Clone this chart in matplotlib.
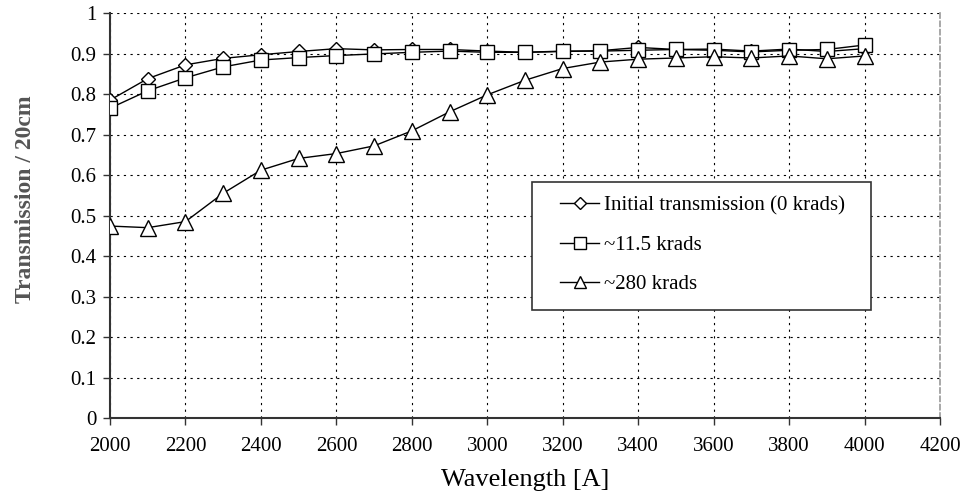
import matplotlib
matplotlib.use("Agg")
import matplotlib.pyplot as plt
from matplotlib.patches import Rectangle

plt.rcParams['font.family'] = ['Liberation Serif', 'DejaVu Serif']

# wavelength [A]
wavelength = [2000, 2100, 2200, 2300, 2400, 2500, 2600, 2700, 2800, 2900, 3000,
              3100, 3200, 3300, 3400, 3500, 3600, 3700, 3800, 3900, 4000]

# transmission / 20cm
initial = [0.785, 0.838, 0.872, 0.888, 0.897, 0.905, 0.912, 0.909, 0.910, 0.910, 0.906,
           0.903, 0.905, 0.907, 0.915, 0.910, 0.911, 0.906, 0.911, 0.905, 0.912]
krad_11 = [0.765, 0.808, 0.840, 0.867, 0.884, 0.890, 0.895, 0.899, 0.903, 0.906, 0.903,
           0.903, 0.906, 0.906, 0.908, 0.910, 0.908, 0.904, 0.908, 0.910, 0.921]
krad_280 = [0.474, 0.470, 0.485, 0.555, 0.612, 0.641, 0.653, 0.672, 0.709, 0.756, 0.798,
            0.834, 0.863, 0.879, 0.886, 0.889, 0.892, 0.889, 0.894, 0.887, 0.894]

labels = ['Initial transmission (0 krads)', '~11.5 krads', '~280 krads']

fig = plt.figure(figsize=(9.66, 4.99), dpi=100)
ax = fig.add_axes([0.1139, 0.1623, 0.8592, 0.8116])

ax.plot(wavelength, initial, color='black', lw=1, marker='D', ms=7,
        mfc='white', mec='black', mew=1, label=labels[0], zorder=3)
ax.plot(wavelength, krad_11, color='black', lw=1, marker='s', ms=10,
        mfc='white', mec='black', mew=1, label=labels[1], zorder=4)
ax.plot(wavelength, krad_280, color='black', lw=1, marker='^', ms=11.5,
        mfc='white', mec='black', mew=1, label=labels[2], zorder=5)

ax.set_xlim(2000, 4200)
ax.set_ylim(0, 1)
ax.set_xticks(range(2000, 4201, 200))
ax.set_yticks([i / 10 for i in range(11)])
ax.set_yticklabels(['0', '0.1', '0.2', '0.3', '0.4', '0.5', '0.6', '0.7', '0.8', '0.9', '1'])
ax.tick_params(labelsize=15, direction='out', length=5, width=1, color='#333333')
ax.tick_params(axis='x', pad=9)
ax.tick_params(axis='y', pad=5)

ax.grid(True, color='black', linestyle=(0, (2, 4)), linewidth=0.8)
ax.set_axisbelow(True)

for s in ['left', 'bottom']:
    ax.spines[s].set_color('#333333')
    ax.spines[s].set_linewidth(1.5)
ax.spines['top'].set_visible(False)
ax.spines['right'].set_color('#999999')
ax.spines['right'].set_linestyle((0, (3, 2)))
ax.spines['right'].set_linewidth(1.2)

ax.set_xlabel('Wavelength [A]', fontsize=19, labelpad=9)
fig.text(0.026, 0.60, 'Transmission / 20cm', rotation=90, ha='center', va='center',
         fontsize=17, fontweight='bold', color='#555555')

# legend frame drawn separately so the entries can sit inside with a wider left margin
ax.add_patch(Rectangle((0.508, 0.267), 0.409, 0.316, transform=ax.transAxes,
                       facecolor='white', edgecolor='#333333', lw=1.2, zorder=6))
leg = ax.legend(loc='center left', bbox_to_anchor=(0.542, 0.427),
                fontsize=15, frameon=False, borderpad=0, labelspacing=0.95,
                handlelength=1.9, handletextpad=0.2, borderaxespad=0)
leg.set_zorder(7)
for h, m in zip(leg.legend_handles, [6, 8, 9]):
    h.set_markersize(m)

fig.savefig('out.png', dpi=100)
